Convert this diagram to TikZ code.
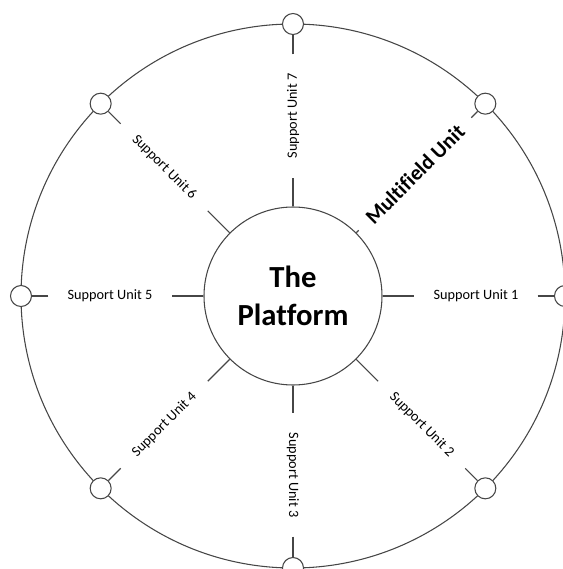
\documentclass[tikz,border=0pt]{standalone}
\usepackage{fontspec}
\setmainfont{Carlito}[Ligatures = NoCommon]
\usepackage{tikz}
\usetikzlibrary{positioning}
\definecolor{ringgray}{RGB}{70,70,70}

\begin{document}
\begin{tikzpicture} [x = 0.75pt, y = 0.75pt,
			every node/.style = {text = black},
			hub/.style = {circle, draw = ringgray, line width = 0.8pt, fill = white,
				minimum size = 133.5pt, align = center,
				font = \fontsize{23}{28.5}\selectfont\bfseries
			},
			sat/.style = {circle, draw = ringgray, line width = 0.8pt, fill = white,
				minimum size = 15.75pt, inner sep = 0pt
			},
			unit/.style = {inner sep = 0pt, minimum width = 92pt,
				font = \fontsize{10.7}{13}\selectfont
			},
			bigunit/.style = {inner sep = 0pt, minimum width = 119pt,
				font = \fontsize{16}{19}\selectfont\bfseries
			},
			spoke/.style = {draw = ringgray, line width = 0.8pt}
			]
			\useasboundingbox (-293,-273) rectangle (270,296);
			% Ring
			\draw [spoke] (0,0) circle (272);
			% Hub
			\node (hub) [hub] at (0,0) {The\\Platform};
			% Satellites
			\node (sat1) [sat] at (0:272) {};
			\node (satmf) [sat] at (45:272) {};
			\node (sat7) [sat] at (90:272) {};
			\node (sat6) [sat] at (135:272) {};
			\node (sat5) [sat] at (180:272) {};
			\node (sat4) [sat] at (225:272) {};
			\node (sat3) [sat] at (270:272) {};
			\node (sat2) [sat] at (315:272) {};
			% Units
			\node (u1) [unit] at (0:183) {Support Unit 1};
			\node (mf) [bigunit, rotate = 45] at (45:172.5) {Multifield Unit};
			\node (u7) [unit, rotate = 90] at (90:180) {Support Unit 7};
			\node (u6) [unit, rotate = -45] at (135:182) {Support Unit 6};
			\node (u5) [unit] at (180:183) {Support Unit 5};
			\node (u4) [unit, rotate = 45] at (225:182) {Support Unit 4};
			\node (u3) [unit, rotate = -90] at (270:179) {Support Unit 3};
			\node (u2) [unit, rotate = -45] at (315:182) {Support Unit 2};
			%Spokes
			\path [spoke]
			
			(hub) edge (u1)
			(u1) edge (sat1)
			
			(hub) edge (mf)
			(mf) edge (satmf)
			
			(hub) edge (u7)
			(u7) edge (sat7)
			
			(hub) edge (u6)
			(u6) edge (sat6)
			
			(hub) edge (u5)
			(u5) edge (sat5)
			
			(hub) edge (u4)
			(u4) edge (sat4)
			
			(hub) edge (u3)
			(u3) edge (sat3)
			
			(hub) edge (u2)
			(u2) edge (sat2);
		\end{tikzpicture}
\end{document}
